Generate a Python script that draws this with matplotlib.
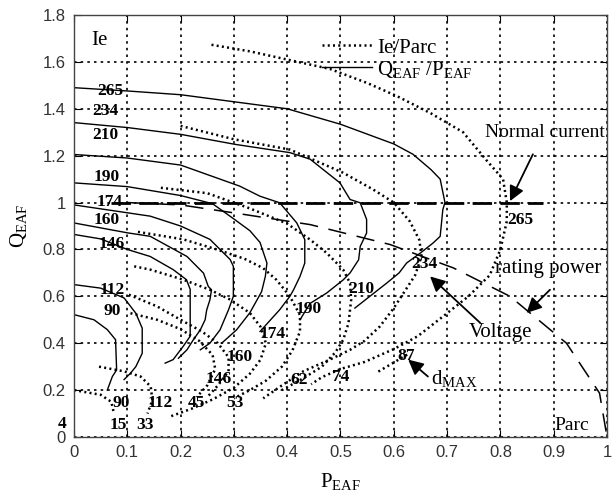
import matplotlib
matplotlib.use("Agg")
import matplotlib.pyplot as plt
from matplotlib.lines import Line2D
from matplotlib.ticker import FuncFormatter

plt.rcParams["mathtext.fontset"] = "custom"
plt.rcParams["mathtext.rm"] = "Liberation Serif"
plt.rcParams["mathtext.it"] = "Liberation Serif:italic"

# Q/P operating curves, one per electrode current (kA)
ie_labels = ["265", "234", "210", "190", "174", "160", "146", "112", "90"]
qp_p = [
    [0, 0.1, 0.2, 0.3, 0.4, 0.5, 0.6, 0.636, 0.67, 0.687, 0.696, 0.692, 0.687, 0.674, 0.65, 0.624, 0.61, 0.587, 0.527],
    [0, 0.1, 0.2, 0.303, 0.405, 0.443, 0.499, 0.518, 0.537, 0.549, 0.549, 0.537, 0.534, 0.518, 0.505, 0.474, 0.443, 0.424],
    [0, 0.1, 0.2, 0.311, 0.349, 0.386, 0.418, 0.433, 0.433, 0.424, 0.412, 0.405, 0.386, 0.349],
    [0, 0.1, 0.2, 0.26, 0.3, 0.33, 0.349, 0.362, 0.359, 0.352, 0.33, 0.305, 0.277],
    [0, 0.143, 0.2, 0.255, 0.293, 0.299, 0.299, 0.29, 0.274, 0.255, 0.237],
    [0, 0.1, 0.143, 0.212, 0.243, 0.252, 0.258, 0.255, 0.249, 0.246, 0.237, 0.224, 0.212, 0.196],
    [0, 0.05, 0.1, 0.143, 0.186, 0.211, 0.218, 0.218, 0.205, 0.186, 0.171],
    [0, 0.05, 0.094, 0.116, 0.128, 0.128, 0.116, 0.106, 0.094],
    [0, 0.0375, 0.0625, 0.078, 0.08, 0.072, 0.0625],
]
qp_q = [
    [1.49, 1.476, 1.46, 1.43, 1.40, 1.334, 1.25, 1.206, 1.14, 1.10, 1.0, 0.97, 0.856, 0.828, 0.785, 0.742, 0.70, 0.657, 0.55],
    [1.341, 1.32, 1.291, 1.248, 1.213, 1.185, 1.084, 1.013, 0.999, 0.928, 0.87, 0.813, 0.756, 0.70, 0.67, 0.614, 0.57, 0.50],
    [1.205, 1.19, 1.16, 1.07, 1.027, 0.999, 0.913, 0.842, 0.742, 0.685, 0.628, 0.60, 0.543, 0.45],
    [1.084, 1.068, 1.03, 0.995, 0.93, 0.88, 0.83, 0.742, 0.685, 0.62, 0.53, 0.457, 0.40],
    [0.99, 0.942, 0.9, 0.843, 0.757, 0.728, 0.60, 0.543, 0.457, 0.40, 0.372],
    [0.913, 0.871, 0.856, 0.77, 0.699, 0.642, 0.628, 0.585, 0.542, 0.50, 0.457, 0.415, 0.372, 0.336],
    [0.864, 0.845, 0.80, 0.77, 0.714, 0.671, 0.63, 0.43, 0.387, 0.33, 0.315],
    [0.65, 0.635, 0.593, 0.528, 0.464, 0.357, 0.30, 0.272, 0.245],
    [0.522, 0.50, 0.458, 0.415, 0.286, 0.258, 0.20],
]
qp_label_xy = [(0.069, 1.476), (0.059, 1.391), (0.059, 1.288), (0.061, 1.109), (0.066, 1.003),
               (0.061, 0.924), (0.07, 0.825), (0.072, 0.628), (0.072, 0.539)]

# Ie / Parc dotted curves
arc_p = [
    [0.258, 0.33, 0.4, 0.48, 0.55, 0.605, 0.67, 0.73, 0.774, 0.805, 0.812, 0.812, 0.80, 0.78, 0.74, 0.69, 0.645, 0.60, 0.545, 0.50, 0.465, 0.445],
    [0.2, 0.3, 0.405, 0.505, 0.561, 0.60, 0.63, 0.648, 0.652, 0.64, 0.62, 0.60, 0.574, 0.545, 0.518, 0.48, 0.43, 0.39, 0.355],
    [0.163, 0.25, 0.33, 0.40, 0.443, 0.474, 0.505, 0.518, 0.52, 0.515, 0.505, 0.49, 0.465, 0.43, 0.39],
    [0.12, 0.205, 0.268, 0.32, 0.355, 0.38, 0.405, 0.424, 0.424, 0.41, 0.39, 0.36, 0.33, 0.30],
    [0.113, 0.143, 0.205, 0.255, 0.293, 0.33, 0.35, 0.36, 0.35, 0.33, 0.30, 0.26, 0.22, 0.18],
    [0.103, 0.156, 0.2, 0.24, 0.27, 0.29, 0.29, 0.27, 0.25],
    [0.106, 0.156, 0.2, 0.235, 0.26, 0.265, 0.25, 0.23],
    [0.047, 0.094, 0.125, 0.144, 0.147, 0.138],
    [0.0, 0.05, 0.07, 0.075],
]
arc_q = [
    [1.673, 1.645, 1.61, 1.57, 1.51, 1.455, 1.38, 1.30, 1.18, 1.10, 1.0, 0.92, 0.80, 0.69, 0.60, 0.51, 0.43, 0.375, 0.32, 0.29, 0.255, 0.225],
    [1.327, 1.27, 1.226, 1.127, 1.056, 1.0, 0.92, 0.84, 0.77, 0.69, 0.62, 0.55, 0.472, 0.41, 0.372, 0.33, 0.28, 0.22, 0.165],
    [1.063, 1.04, 0.975, 0.91, 0.842, 0.785, 0.714, 0.656, 0.585, 0.485, 0.414, 0.36, 0.30, 0.25, 0.20],
    [0.875, 0.843, 0.80, 0.76, 0.72, 0.67, 0.60, 0.52, 0.45, 0.37, 0.30, 0.24, 0.20, 0.165],
    [0.728, 0.714, 0.671, 0.628, 0.586, 0.529, 0.47, 0.40, 0.33, 0.27, 0.21, 0.16, 0.12, 0.087],
    [0.607, 0.557, 0.50, 0.45, 0.40, 0.34, 0.28, 0.22, 0.17],
    [0.528, 0.50, 0.46, 0.41, 0.35, 0.29, 0.22, 0.17],
    [0.30, 0.28, 0.258, 0.215, 0.158, 0.10],
    [0.2, 0.18, 0.15, 0.10],
]
arc_labels = ["265", "234", "210", "190", "174", "160", "146", "112", "90"]
arc_label_xy = [(0.837, 0.925), (0.657, 0.74), (0.539, 0.633), (0.441, 0.547), (0.372, 0.44),
                (0.311, 0.343), (0.272, 0.248), (0.161, 0.147), (0.088, 0.145)]
parc_labels = ["15", "33", "45", "53", "62", "74", "87"]
parc_label_xy = [(0.083, 0.051), (0.134, 0.051), (0.23, 0.147), (0.302, 0.147),
                 (0.422, 0.244), (0.50, 0.258), (0.623, 0.347)]

# maximum displacement line
dmax_p = [0.571, 0.63]
dmax_q = [0.279, 0.358]

# normal current and rating power limits
normal_p = [0.07, 0.88]
normal_q = [1.0, 1.0]
rating_p = [0.10, 0.20, 0.30, 0.443, 0.593, 0.712, 0.818, 0.924, 0.986, 1.0]
rating_q = [1.0, 0.99, 0.956, 0.906, 0.821, 0.721, 0.60, 0.40, 0.187, 0.0]

serif = "Liberation Serif"
dots = (0, (0.8, 1.3))

fig = plt.figure(figsize=(6.15, 4.92), dpi=100)
ax = fig.add_axes([0.1203, 0.1118, 0.8667, 0.8577])

for x, y in zip(qp_p, qp_q):
    ax.plot(x, y, color="black", lw=1.0)
for x, y in zip(arc_p, arc_q):
    ax.plot(x, y, color="black", lw=1.8, ls=dots)
ax.plot(dmax_p, dmax_q, color="black", lw=1.8, ls=dots)
ax.plot(normal_p, normal_q, color="black", lw=2.0, ls=(0, (7, 3)))
ax.plot(rating_p, rating_q, color="black", lw=1.1, ls=(0, (12, 7)))

num_style = dict(ha="center", va="center", family=serif, fontweight="bold", fontsize=12.5)
for lab, (x, y) in zip(ie_labels, qp_label_xy):
    ax.text(x, y, lab, **num_style)
for lab, (x, y) in zip(arc_labels, arc_label_xy):
    ax.text(x, y, lab, **num_style)
for lab, (x, y) in zip(parc_labels, parc_label_xy):
    ax.text(x, y, lab, **num_style)
ax.text(-0.022, 0.055, "4", clip_on=False, **num_style)

ax.text(0.047, 1.69, "Ie", ha="center", va="center", family=serif, fontsize=15)
ax.text(0.934, 0.05, "Parc", ha="center", va="center", family=serif, fontsize=14)
ax.text(0.772, 1.30, "Normal current", ha="left", va="center", family=serif, fontsize=14,
        clip_on=False)
ax.text(0.89, 0.72, "rating power", ha="center", va="center", family=serif, fontsize=15)
ax.text(0.80, 0.445, "Voltage", ha="center", va="center", family=serif, fontsize=15)
ax.text(0.713, 0.25, r"d$_{\mathrm{MAX}}$", ha="center", va="center", family=serif, fontsize=15)

arrow = dict(arrowstyle="-|>,head_length=0.9,head_width=0.45", color="black", lw=1.3,
             shrinkA=0, shrinkB=0)
ax.annotate("", xy=(0.818, 1.006), xytext=(0.861, 1.206), arrowprops=arrow)
ax.annotate("", xy=(0.849, 0.529), xytext=(0.893, 0.628), arrowprops=arrow)
ax.annotate("", xy=(0.668, 0.685), xytext=(0.762, 0.487), arrowprops=arrow)
ax.annotate("", xy=(0.627, 0.33), xytext=(0.664, 0.258), arrowprops=arrow)

handles = [Line2D([], [], color="black", lw=1.8, ls=dots),
           Line2D([], [], color="black", lw=1.0)]
ax.legend(handles, ["Ie/Parc", r"Q$_{\mathrm{EAF}}$ /P$_{\mathrm{EAF}}$"],
          loc="upper left", bbox_to_anchor=(0.43, 0.99), frameon=False,
          handlelength=2.4, handletextpad=0.25, labelspacing=0.05,
          prop={"family": serif, "size": 15})

ax.set_xlim(0, 1)
ax.set_ylim(0, 1.8)
ax.set_xticks([i / 10 for i in range(11)])
ax.set_yticks([i / 5 for i in range(10)])
fmt = FuncFormatter(lambda v, pos: "%g" % round(v, 2))
ax.xaxis.set_major_formatter(fmt)
ax.yaxis.set_major_formatter(fmt)
ax.tick_params(direction="in", top=True, right=True, length=5, labelsize=12,
               labelcolor="#333333", pad=6)
for t in ax.get_xticklabels() + ax.get_yticklabels():
    t.set_family("Liberation Sans")
ax.grid(True, color="black", lw=1.2, ls=(0, (1.5, 2.5)))
for s in ax.spines.values():
    s.set_color("#444444")
    s.set_linewidth(1.0)

ax.set_xlabel(r"P$_{\mathrm{EAF}}$", family=serif, fontsize=15, labelpad=8)
ax.set_ylabel(r"Q$_{\mathrm{EAF}}$", family=serif, fontsize=15, labelpad=10)

fig.savefig("out.png", dpi=100)
